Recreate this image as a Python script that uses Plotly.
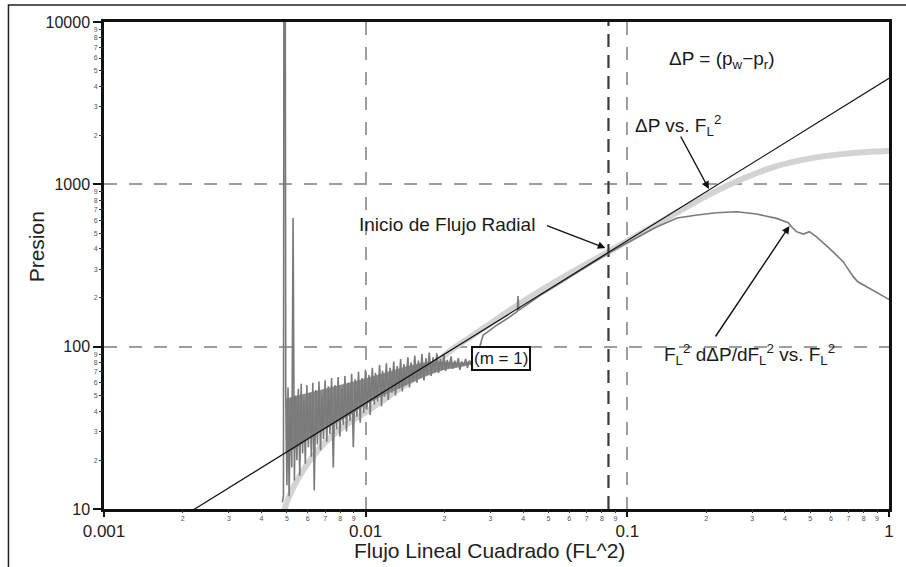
import plotly.graph_objects as go

# ---- Series: pressure change vs. squared linear flow (log-log) ----
dp_x = [0.00488, 0.00495, 0.00505, 0.00520, 0.00540, 0.00570, 0.0062, 0.0068, 0.0075, 0.0085,
        0.0100, 0.0115, 0.0133, 0.0155, 0.0184, 0.0212, 0.0250, 0.0286, 0.038, 0.054,
        0.0847, 0.12, 0.155, 0.207, 0.279, 0.372, 0.496, 0.668, 0.85, 1.0]
dp_y = [9.5, 10.5, 11.5, 12.8, 14.5, 16.8, 20.5, 24.5, 28.5, 33.5,
        39.5, 46, 54.5, 64, 79, 95, 114, 132, 180, 255,
        384, 530, 672, 870, 1090, 1295, 1440, 1540, 1590, 1605]

# ---- Series: derivative F_L^2 dP/dF_L^2 ----
deriv_x = [
    0.00480, 0.00485, 0.00487, 0.00493,
    0.00495, 0.00500, 0.00505, 0.00510, 0.00516, 0.00522, 0.00528, 0.00534, 0.00540, 0.00546,
    0.00553, 0.00560, 0.00567, 0.00574, 0.00581, 0.00588, 0.00596, 0.00604, 0.00612, 0.00620,
    0.00628, 0.00636, 0.00645, 0.00654, 0.00663, 0.00672, 0.00681, 0.00690, 0.00700, 0.00710,
    0.00720, 0.00730, 0.00741, 0.00752, 0.00763, 0.00774, 0.00785, 0.00797, 0.00809, 0.00821,
    0.00833, 0.00845, 0.00858, 0.00871, 0.00884, 0.00897, 0.00911, 0.00925, 0.00939, 0.00953,
    0.00968, 0.00983, 0.00998, 0.0101, 0.0103, 0.0104, 0.0106, 0.0108, 0.0109, 0.0111,
    0.0113, 0.0115, 0.0116, 0.0118, 0.0120, 0.0122, 0.0124, 0.0126, 0.0128, 0.0130,
    0.0132, 0.0134, 0.0136, 0.0138, 0.0140, 0.0142, 0.0145, 0.0147, 0.0149, 0.0152,
    0.0154, 0.0157, 0.0159, 0.0162, 0.0164, 0.0167, 0.0170, 0.0172, 0.0175, 0.0178,
    0.0181, 0.0184, 0.0187, 0.0190, 0.0193, 0.0196, 0.0199, 0.0202, 0.0205, 0.0208,
    0.0212, 0.0215, 0.0219, 0.0222, 0.0226, 0.0229, 0.0233, 0.0237, 0.0241, 0.0245,
    0.0249, 0.0253, 0.0257, 0.0261, 0.0265, 0.0269, 0.0273, 0.0277, 0.0281,
    0.0290, 0.0300, 0.0320, 0.0350, 0.0380, 0.0382, 0.0385, 0.0420, 0.0460, 0.0500,
    0.0550, 0.0600, 0.0650, 0.0700, 0.0770, 0.0850, 0.0930, 0.100, 0.110, 0.120,
    0.130, 0.140, 0.155, 0.185, 0.219, 0.262, 0.312, 0.372, 0.412, 0.424,
    0.443, 0.471, 0.496, 0.527, 0.592, 0.668, 0.730, 0.760, 0.836, 0.980, 1.0]
deriv_y = [
    11, 12, 12000, 12000,
    52, 14, 56, 12, 48, 18, 620, 15, 50, 20,
    55, 16, 59, 22, 47, 19, 58, 24, 52, 21,
    60, 13, 54, 25, 61, 23, 50, 27, 62, 26,
    57, 29, 64, 18, 58, 31, 65, 28, 55, 33,
    66, 30, 60, 35, 68, 24, 63, 37, 70, 34,
    64, 39, 72, 41, 67, 38, 74, 44, 69, 46,
    77, 43, 71, 49, 79, 47, 74, 52, 81, 50,
    76, 55, 84, 53, 78, 58, 86, 56, 80, 61,
    88, 60, 82, 64, 90, 62, 85, 67, 92, 66,
    86, 70, 91, 69, 84, 72, 89, 71, 83, 74,
    87, 73, 82, 75, 85, 72, 81, 76, 84, 74,
    82, 77, 86, 80, 90, 88, 100, 108, 118,
    122, 127, 137, 150, 165, 205, 168, 185, 205, 222,
    245, 268, 290, 312, 343, 378, 410, 437, 476, 512,
    548, 580, 620, 648, 668, 678, 656, 617, 580, 548,
    511, 494, 511, 476, 403, 334, 270, 251, 229, 199, 196]

# dense core of the noisy early-time derivative (upper / lower edge)
band_x = [0.00495, 0.0055, 0.0060, 0.0070, 0.0080, 0.0090, 0.0100, 0.0120, 0.0140,
          0.0160, 0.0180, 0.0200, 0.0220, 0.0240, 0.0260]
band_upper = [48, 50, 52, 55, 58, 61, 64, 70, 75, 79, 81, 81, 80, 80, 83]
band_lower = [22, 24, 27, 31, 35, 39, 44, 51, 57, 63, 68, 72, 74, 76, 79]

# ---- Unit-slope reference line (m = 1) ----
slope_x = [0.0022, 1.0]
slope_y = [9.9, 4500]

# ---- Start of radial flow ----
radial_start = 0.0847
radial_line_y = [10, 10000]

# ---- Axis ticks ----
major_x = [0.001, 0.01, 0.1, 1]
major_x_text = ["0.001", "0.01", "0.1", "1"]
major_y = [10, 100, 1000, 10000]
major_y_text = ["10", "100", "1000", "10000"]
minor_digits = ["2", "3", "4", "5", "6", "7", "8", "9"]
minor_x = [d * 10.0 ** k for k in (-3, -2, -1) for d in range(2, 10)]
minor_y = [d * 10.0 ** k for k in (1, 2, 3) for d in range(2, 10)]
minor_x_text = minor_digits * 3
minor_y_text = minor_digits * 3

x_title = "Flujo Lineal Cuadrado (FL^2)"
y_title = "Presion"

FONT = "Liberation Sans, Arial, sans-serif"
GRID_DASH = "13px,12px"
NOISE_GREY = "#7a7a7a"

fig = go.Figure()
fig.add_trace(go.Scatter(x=dp_x, y=dp_y, mode="lines",
                         line=dict(color="#d3d3d3", width=6, shape="spline", smoothing=0.8),
                         hoverinfo="skip"))
fig.add_trace(go.Scatter(x=[radial_start, radial_start], y=radial_line_y, mode="lines",
                         line=dict(color="#3a3a3a", width=2.2, dash="13px,8px"), hoverinfo="skip"))
fig.add_trace(go.Scatter(x=band_x + band_x[::-1], y=band_upper + band_lower[::-1],
                         mode="lines", fill="toself", fillcolor="#8a8a8a",
                         line=dict(width=0), hoverinfo="skip"))
fig.add_trace(go.Scatter(x=deriv_x, y=deriv_y, mode="lines",
                         line=dict(color=NOISE_GREY, width=1.6), hoverinfo="skip"))
fig.add_trace(go.Scatter(x=slope_x, y=slope_y, mode="lines",
                         line=dict(color="#111111", width=1.2), hoverinfo="skip"))
# carrier for the minor-digit overlay axes
fig.add_trace(go.Scatter(x=[], y=[], xaxis="x2", yaxis="y2", hoverinfo="skip"))

axis_common = dict(type="log", showline=True, linewidth=2.5, linecolor="#111111", mirror=True,
                   ticks="outside", tickwidth=2, tickcolor="#111111", zeroline=False,
                   showgrid=True, gridcolor="#9e9e9e", gridwidth=1.5, griddash=GRID_DASH)

fig.update_layout(
    width=906, height=567,
    margin=dict(l=104, r=13, t=22, b=58),
    paper_bgcolor="white", plot_bgcolor="white",
    showlegend=False,
    font=dict(family=FONT, color="#222222"),
    xaxis=dict(axis_common, range=[-3, 0], tickvals=major_x, ticktext=major_x_text,
               ticklen=5, tickfont=dict(size=17)),
    yaxis=dict(axis_common, range=[1, 4], tickvals=major_y, ticktext=major_y_text,
               ticklen=8, tickfont=dict(size=16)),
    xaxis2=dict(type="log", overlaying="x", anchor="y2", side="bottom", range=[-3, 0],
                tickvals=minor_x, ticktext=minor_x_text, ticks="outside", ticklen=3,
                tickwidth=1, tickcolor="#333333", tickfont=dict(size=7, color="#555555"),
                showline=False, showgrid=False, zeroline=False),
    yaxis2=dict(type="log", overlaying="y", anchor="x2", side="left", range=[1, 4],
                tickvals=minor_y, ticktext=minor_y_text, ticks="outside", ticklen=4,
                tickwidth=1, tickcolor="#333333", tickfont=dict(size=7, color="#555555"),
                showline=False, showgrid=False, zeroline=False),
)

# outer frame
fig.add_shape(type="rect", xref="paper", yref="paper", x0=-0.1217, x1=1.05, y0=-0.3, y1=1.035,
              line=dict(color="#222222", width=1.5), layer="below")


def px(xp):
    return (xp - 104) / 789.0


def py(yp):
    return (509 - yp) / 487.0


# axis titles
fig.add_annotation(x=px(491), y=py(550), xref="paper", yref="paper", text=x_title,
                   showarrow=False, xanchor="center", yanchor="middle",
                   font=dict(family=FONT, size=21, color="#222222"))
fig.add_annotation(x=px(36), y=py(247), xref="paper", yref="paper", text=y_title,
                   showarrow=False, xanchor="center", yanchor="middle", textangle=-90,
                   font=dict(family=FONT, size=21, color="#222222"))

text_font = dict(family=FONT, size=19, color="#1a1a1a")
labels = [
    ("ΔP = (p<sub>w</sub>−p<sub>r</sub>)", 725, 60),
    ("ΔP vs. F<sub>L</sub><sup>2</sup>", 681, 126),
    ("Inicio de Flujo Radial", 449, 224),
    ("F<sub>L</sub><sup>2</sup> dΔP/dF<sub>L</sub><sup>2</sup> vs. F<sub>L</sub><sup>2</sup>", 753, 354),
]
for txt, xp, yp in labels:
    fig.add_annotation(x=px(xp), y=py(yp), xref="paper", yref="paper", text=txt,
                       showarrow=False, xanchor="center", yanchor="middle", font=text_font)

fig.add_annotation(x=px(503), y=py(358), xref="paper", yref="paper", text="(m = 1)",
                   showarrow=False, xanchor="center", yanchor="middle",
                   font=dict(family=FONT, size=17, color="#1a1a1a"),
                   bordercolor="#111111", borderwidth=2, borderpad=1, bgcolor="white")

# arrows: head position and tail position in pixels
arrows = [
    (712, 189, 683, 135),
    (608, 248, 548, 225),
    (793, 226, 718, 338),
]
for hx, hy, tx, ty in arrows:
    fig.add_annotation(x=px(hx), y=py(hy), xref="paper", yref="paper", text="",
                       showarrow=True, arrowhead=2, arrowsize=1.1, arrowwidth=1.4,
                       arrowcolor="#111111", ax=tx - hx, ay=ty - hy, standoff=0, startstandoff=0)

fig.write_html("out.html")
